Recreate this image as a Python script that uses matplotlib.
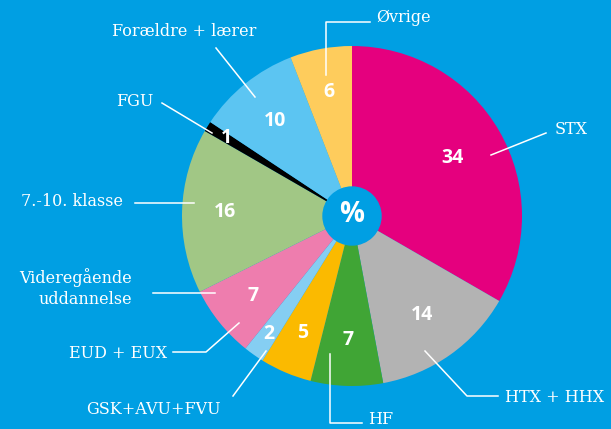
import numpy as np
import matplotlib
matplotlib.use("Agg")
import matplotlib.pyplot as plt

# data
labels = ["STX", "HTX + HHX", "HF", "GSK+AVU+FVU", "EUD + EUX",
          "Videregående\nuddannelse", "7.-10. klasse", "FGU",
          "Forældre + lærer", "Øvrige"]
values = [34, 14, 7, 5, 2, 7, 16, 1, 10, 6]
colors = ["#E5007E", "#B3B3B3", "#40A535", "#FBBA00", "#85CEF2",
          "#EE7DAE", "#A1C785", "#000000", "#5CC5F2", "#FECC5C"]

BG = "#009FE3"
W, H = 611, 429
CX, CY, R = 352, 216, 170


def px(x, y):
    """pixel coords (top-left origin) -> pie data coords"""
    return (x - CX) / R, (CY - y) / R


fig = plt.figure(figsize=(W / 100, H / 100), dpi=100, facecolor=BG)
ax = fig.add_axes([0, 0, 1, 1])
ax.set_facecolor(BG)

wedges, _ = ax.pie(values, colors=colors, startangle=90, counterclock=False,
                   radius=1.0, wedgeprops=dict(linewidth=0))

# value labels inside wedges, radius fraction per slice
num_r = [0.68, 0.71, 0.73, 0.75, 0.85, 0.75, 0.75, 0.87, 0.72, 0.74]
for w, v, rr in zip(wedges, values, num_r):
    ang = np.deg2rad((w.theta1 + w.theta2) / 2)
    ax.text(rr * np.cos(ang), rr * np.sin(ang), str(v), ha="center",
            va="center", color="white", fontsize=14, fontweight="bold",
            family="Open Sans")

# centre circle
ax.add_patch(plt.Circle((0, 0), 29 / R, color=BG, zorder=3))
ax.text(0, 0.01, "%", ha="center", va="center", color="white", fontsize=20,
        fontweight="bold", family="Open Sans", zorder=4)

# leader lines (pixel polylines) and outer labels
leaders = {
    "STX": [(491, 155), (546, 133)],
    "HTX + HHX": [(425, 351), (467, 396), (498, 396)],
    "HF": [(330, 354), (330, 423), (362, 423)],
    "GSK+AVU+FVU": [(266, 351), (233, 396)],
    "EUD + EUX": [(239, 323), (206, 352), (173, 352)],
    "Videregående\nuddannelse": [(215, 293), (153, 293)],
    "7.-10. klasse": [(194, 203), (135, 203)],
    "FGU": [(212, 133), (162, 103)],
    "Forældre + lærer": [(255, 97), (216, 48)],
    "Øvrige": [(326, 75), (326, 22), (370, 22)],
}
text_pos = {
    "STX": (555, 130, "left"),
    "HTX + HHX": (505, 397, "left"),
    "HF": (368, 419, "left"),
    "GSK+AVU+FVU": (153, 409, "center"),
    "EUD + EUX": (167, 353, "right"),
    "Videregående\nuddannelse": (132, 288, "right"),
    "7.-10. klasse": (123, 202, "right"),
    "FGU": (153, 101, "right"),
    "Forældre + lærer": (184, 31, "center"),
    "Øvrige": (376, 17, "left"),
}

for lab in labels:
    pts = [px(x, y) for x, y in leaders[lab]]
    xs, ys = zip(*pts)
    ax.plot(xs, ys, color="white", lw=1.1, zorder=5)
    tx, ty, ha = text_pos[lab]
    tx, ty = px(tx, ty)
    ax.text(tx, ty, lab, ha=ha, va="center", color="white", fontsize=11.5,
            family="DejaVu Serif", linespacing=1.25)

ax.set_xlim(-CX / R, (W - CX) / R)
ax.set_ylim((CY - H) / R, CY / R)
ax.set_aspect("equal", adjustable="datalim")
ax.axis("off")

fig.savefig("out.png", dpi=100, facecolor=BG)
